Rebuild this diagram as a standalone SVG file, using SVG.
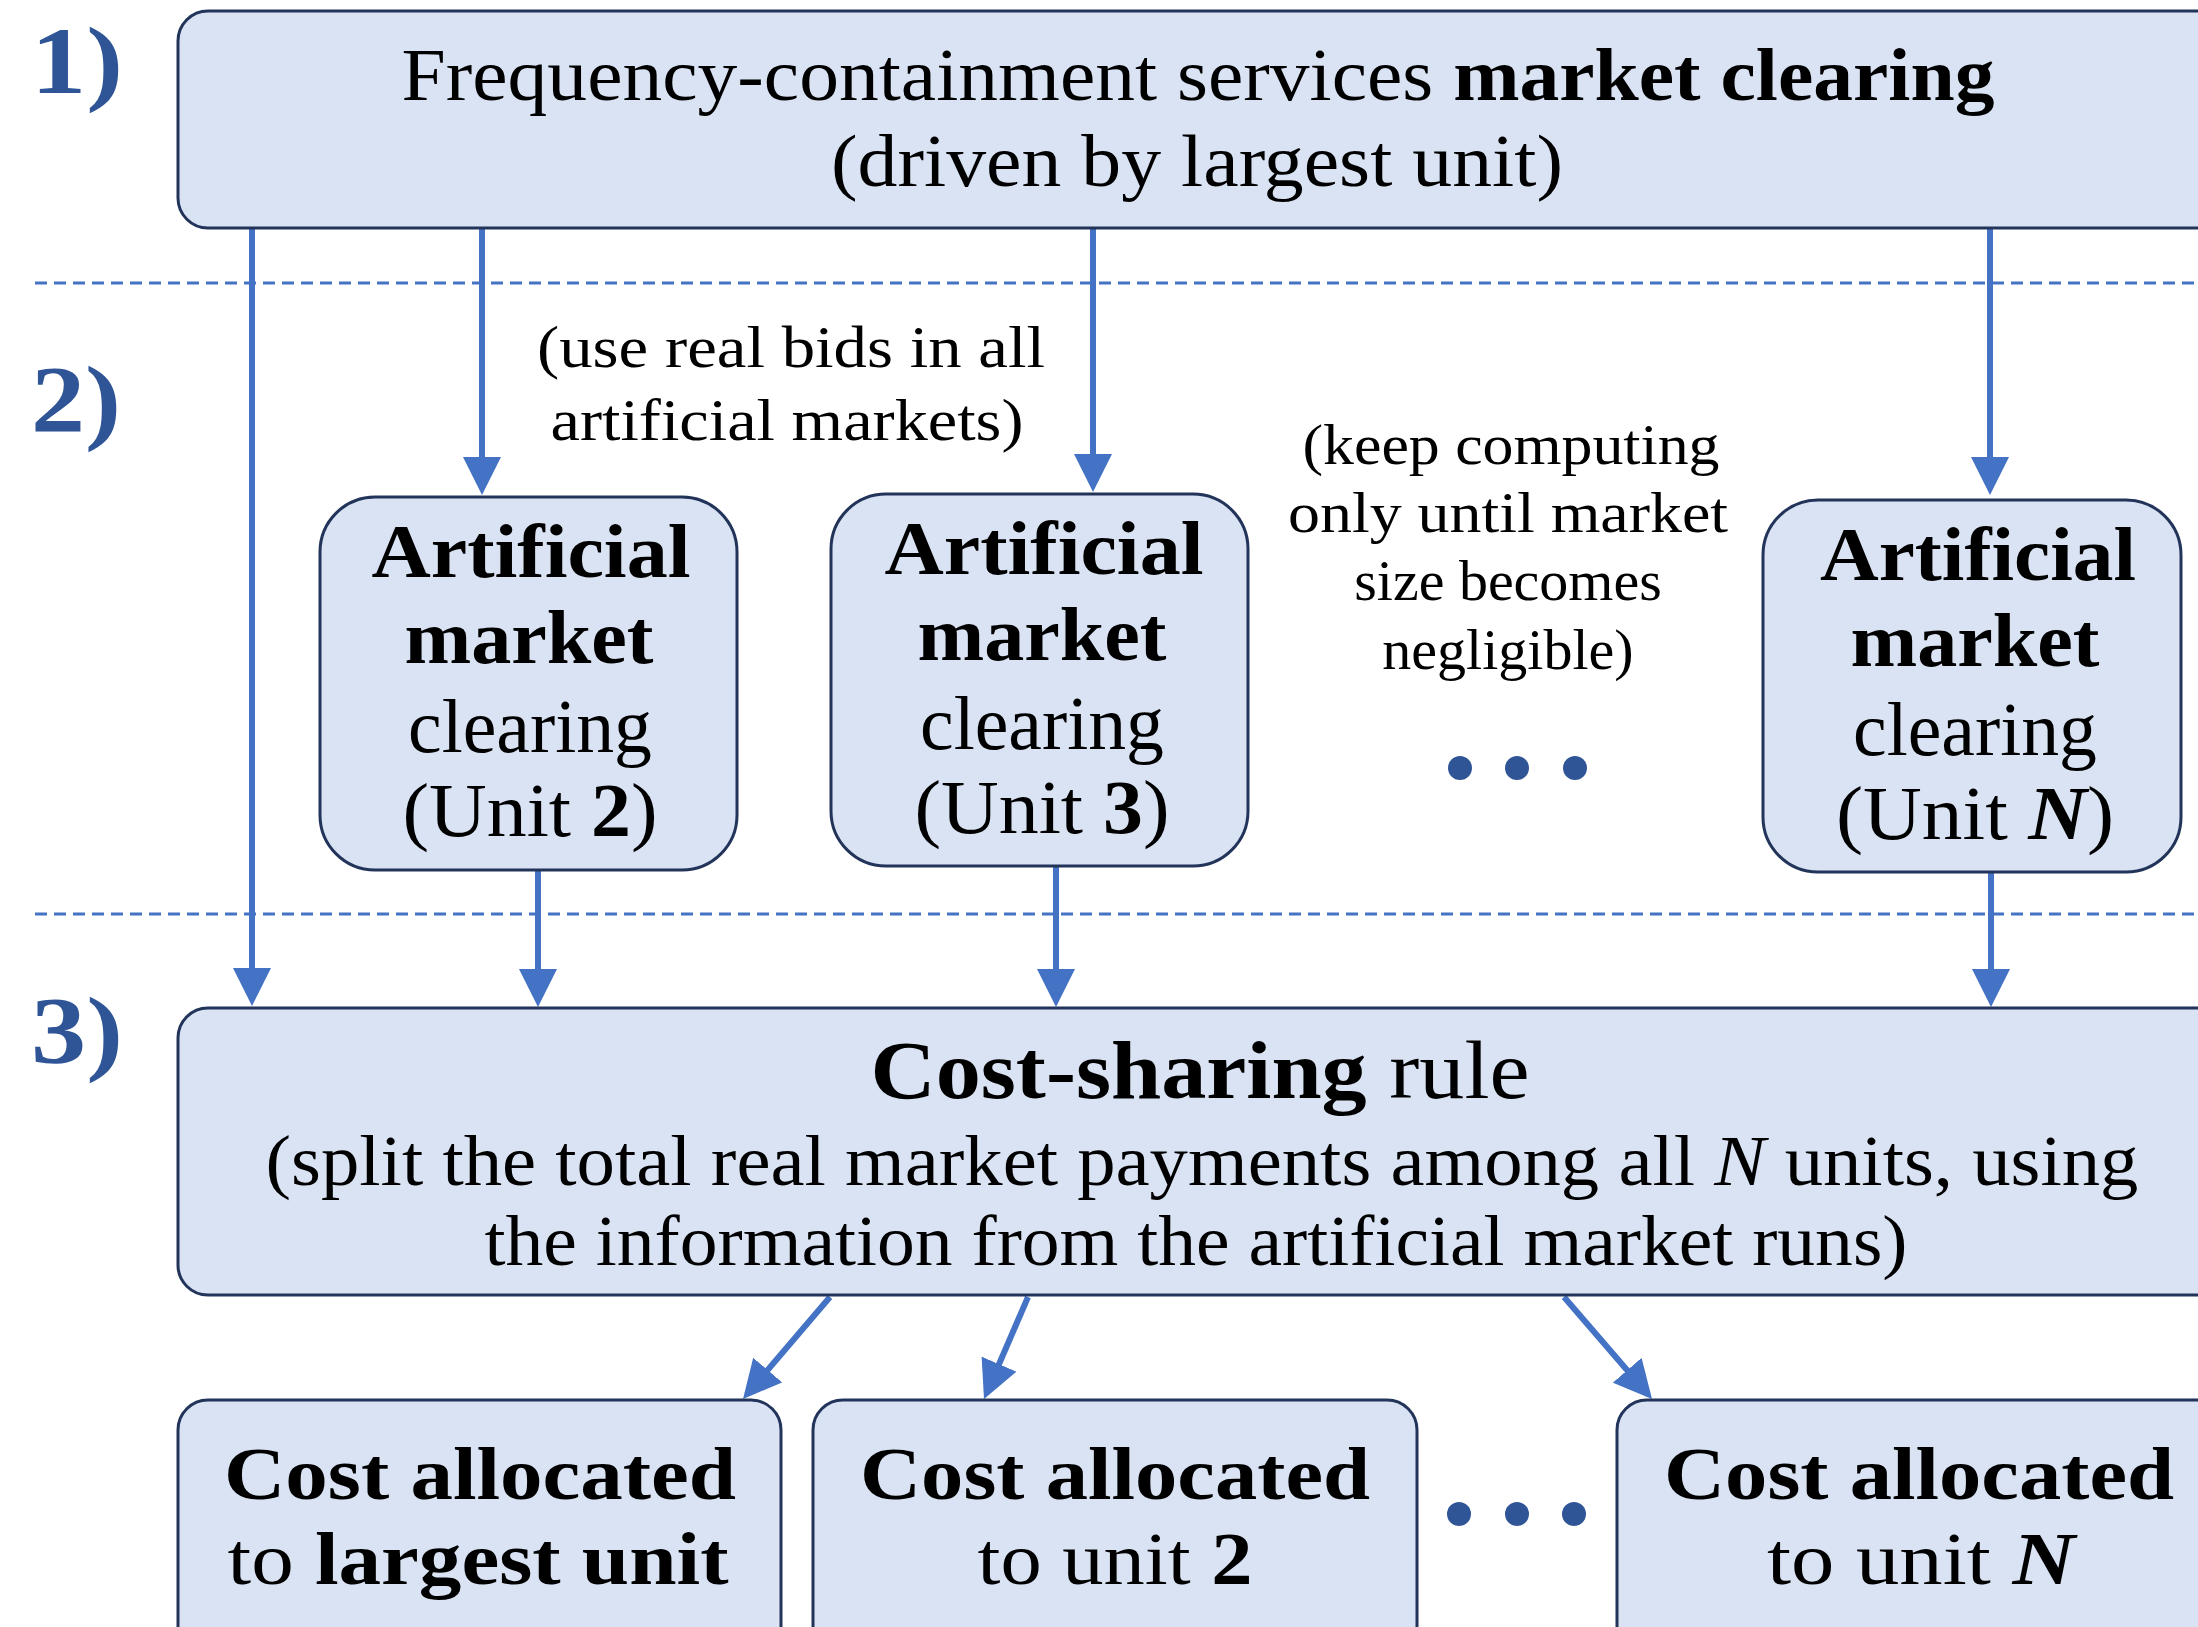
<svg xmlns="http://www.w3.org/2000/svg" width="2198" height="1627" viewBox="0 0 2198 1627">
<style>
.box{fill:#DAE3F3;stroke:#22345A;stroke-width:3}
.t{font-family:"Liberation Serif","Times New Roman",serif;fill:#000;text-anchor:middle}
.b{font-weight:bold}
.lbl{font-family:"Liberation Serif","Times New Roman",serif;font-weight:bold;fill:#2F5597;font-size:95px}
.arr{stroke:#4472C4;stroke-width:6;fill:none;marker-end:url(#ah)}
.dash{stroke:#4472C4;stroke-width:3;stroke-dasharray:12 7;fill:none}
.dot{fill:#2F5597}
</style>
<defs>
<marker id="ah" markerUnits="userSpaceOnUse" markerWidth="38" markerHeight="38" refX="32" refY="19" orient="auto">
<path d="M0,0 L38,19 L0,38 z" fill="#4472C4"/>
</marker>
</defs>

<g id="labels">
<text class="lbl" x="31" y="93" textLength="92" lengthAdjust="spacingAndGlyphs">1)</text>
<text class="lbl" x="31" y="432" textLength="90" lengthAdjust="spacingAndGlyphs">2)</text>
<text class="lbl" x="31" y="1063" textLength="92" lengthAdjust="spacingAndGlyphs">3)</text>
</g>

<g id="separators">
<line class="dash" x1="35" y1="283" x2="2198" y2="283"/>
<line class="dash" x1="35" y1="914" x2="2198" y2="914"/>
</g>

<g id="connectors">
<line class="arr" x1="252" y1="228" x2="252" y2="1000"/>
<line class="arr" x1="482" y1="228" x2="482" y2="489"/>
<line class="arr" x1="1093" y1="228" x2="1093" y2="486"/>
<line class="arr" x1="1990" y1="228" x2="1990" y2="489"/>
<line class="arr" x1="538" y1="870" x2="538" y2="1001"/>
<line class="arr" x1="1056" y1="866" x2="1056" y2="1001"/>
<line class="arr" x1="1991" y1="872" x2="1991" y2="1001"/>
<line class="arr" x1="830" y1="1297" x2="746.9" y2="1394.4"/>
<line class="arr" x1="1028" y1="1297" x2="986.4" y2="1393.5"/>
<line class="arr" x1="1564" y1="1297" x2="1648.1" y2="1394.5"/>
</g>

<g id="node-market">
<rect class="box" x="178" y="11" width="2100" height="217" rx="30"/>
<text class="t" x="1198" y="100" font-size="75" textLength="1593" lengthAdjust="spacingAndGlyphs">Frequency-containment services <tspan class="b">market clearing</tspan></text>
<text class="t" x="1197" y="186" font-size="75" textLength="732" lengthAdjust="spacingAndGlyphs">(driven by largest unit)</text>
</g>

<g id="note-bids">
<text class="t" x="791" y="367" font-size="60" textLength="508" lengthAdjust="spacingAndGlyphs">(use real bids in all</text>
<text class="t" x="787" y="440" font-size="60" textLength="473" lengthAdjust="spacingAndGlyphs">artificial markets)</text>
</g>

<g id="note-keep">
<text class="t" x="1511" y="464" font-size="58" textLength="417" lengthAdjust="spacingAndGlyphs">(keep computing</text>
<text class="t" x="1508" y="532" font-size="58" textLength="440" lengthAdjust="spacingAndGlyphs">only until market</text>
<text class="t" x="1508" y="600" font-size="58">size becomes</text>
<text class="t" x="1508" y="669" font-size="58">negligible)</text>
</g>

<g id="node-unit2">
<rect class="box" x="320" y="497" width="417" height="373" rx="55"/>
<text class="t b" x="531" y="577" font-size="76" textLength="319" lengthAdjust="spacingAndGlyphs">Artificial</text>
<text class="t b" x="529" y="663" font-size="76" textLength="249" lengthAdjust="spacingAndGlyphs">market</text>
<text class="t" x="530" y="752" font-size="76" textLength="244" lengthAdjust="spacingAndGlyphs">clearing</text>
<text class="t" x="530" y="836" font-size="76" textLength="255" lengthAdjust="spacingAndGlyphs">(Unit <tspan class="b">2</tspan>)</text>
</g>

<g id="node-unit3">
<rect class="box" x="831" y="494" width="417" height="372" rx="55"/>
<text class="t b" x="1044" y="574" font-size="76" textLength="319" lengthAdjust="spacingAndGlyphs">Artificial</text>
<text class="t b" x="1042" y="660" font-size="76" textLength="249" lengthAdjust="spacingAndGlyphs">market</text>
<text class="t" x="1042" y="749" font-size="76" textLength="244" lengthAdjust="spacingAndGlyphs">clearing</text>
<text class="t" x="1042" y="833" font-size="76" textLength="255" lengthAdjust="spacingAndGlyphs">(Unit <tspan class="b">3</tspan>)</text>
</g>

<g id="node-unitN">
<rect class="box" x="1763" y="500" width="418" height="372" rx="55"/>
<text class="t b" x="1978" y="580" font-size="76" textLength="316" lengthAdjust="spacingAndGlyphs">Artificial</text>
<text class="t b" x="1975" y="666" font-size="76" textLength="249" lengthAdjust="spacingAndGlyphs">market</text>
<text class="t" x="1975" y="755" font-size="76" textLength="244" lengthAdjust="spacingAndGlyphs">clearing</text>
<text class="t" x="1975" y="839" font-size="76" textLength="278" lengthAdjust="spacingAndGlyphs">(Unit <tspan class="b" font-style="italic">N</tspan>)</text>
</g>

<g id="dots-mid">
<circle class="dot" cx="1460" cy="768" r="12"/>
<circle class="dot" cx="1517" cy="768" r="12"/>
<circle class="dot" cx="1575" cy="768" r="12"/>
</g>

<g id="node-costsharing">
<rect class="box" x="178" y="1008" width="2100" height="287" rx="30"/>
<text class="t" x="1200" y="1098" font-size="83" textLength="659" lengthAdjust="spacingAndGlyphs"><tspan class="b">Cost-sharing</tspan> rule</text>
<text class="t" x="1202" y="1185" font-size="72" textLength="1873" lengthAdjust="spacingAndGlyphs">(split the total real market payments among all <tspan font-style="italic">N</tspan> units, using</text>
<text class="t" x="1196" y="1265" font-size="72" textLength="1423" lengthAdjust="spacingAndGlyphs">the information from the artificial market runs)</text>
</g>

<g id="node-cost1">
<rect class="box" x="178" y="1400" width="603" height="300" rx="30"/>
<text class="t b" x="480" y="1499" font-size="75" textLength="512" lengthAdjust="spacingAndGlyphs">Cost allocated</text>
<text class="t" x="478" y="1584" font-size="75" textLength="501" lengthAdjust="spacingAndGlyphs">to <tspan class="b">largest unit</tspan></text>
</g>

<g id="node-cost2">
<rect class="box" x="813" y="1400" width="604" height="300" rx="30"/>
<text class="t b" x="1115" y="1499" font-size="75" textLength="510" lengthAdjust="spacingAndGlyphs">Cost allocated</text>
<text class="t" x="1115" y="1584" font-size="75" textLength="275" lengthAdjust="spacingAndGlyphs">to unit <tspan class="b">2</tspan></text>
</g>

<g id="dots-bottom">
<circle class="dot" cx="1459" cy="1514" r="12"/>
<circle class="dot" cx="1517" cy="1514" r="12"/>
<circle class="dot" cx="1574" cy="1514" r="12"/>
</g>

<g id="node-costN">
<rect class="box" x="1617" y="1400" width="700" height="300" rx="30"/>
<text class="t b" x="1919" y="1499" font-size="75" textLength="510" lengthAdjust="spacingAndGlyphs">Cost allocated</text>
<text class="t" x="1921" y="1584" font-size="75" textLength="308" lengthAdjust="spacingAndGlyphs">to unit <tspan class="b" font-style="italic">N</tspan></text>
</g>
</svg>
